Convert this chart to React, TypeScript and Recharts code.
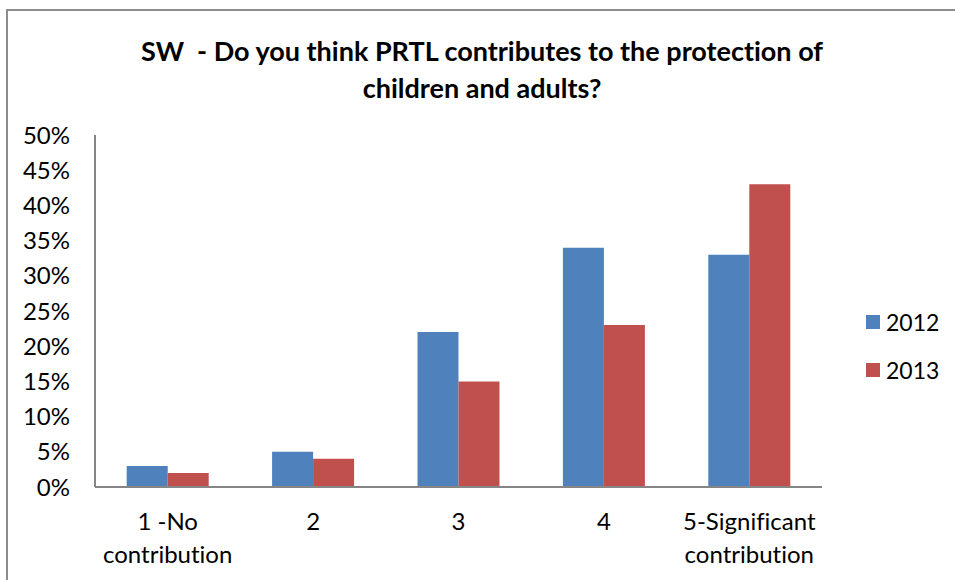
import React from 'react';
import { BarChart, Bar, XAxis, YAxis } from 'recharts';

const categories = ['1 -No\ncontribution', '2', '3', '4', '5-Significant\ncontribution'];
const values2012 = [3, 5, 22, 34, 33];
const values2013 = [2, 4, 15, 23, 43];
const yTicks = [0, 5, 10, 15, 20, 25, 30, 35, 40, 45, 50];
const seriesNames = ['2012', '2013'];

const data = categories.map((c, i) => ({ name: c, y2012: values2012[i], y2013: values2013[i] }));

const FONT = 'Lato, "Open Sans", sans-serif';
const BLUE = '#4F81BD';
const RED = '#C0504D';
const AXIS = '#868686';
const seriesColors = [BLUE, RED];

const CategoryTick = (props: any) => {
  const { x, y, payload } = props;
  const lines = String(payload.value).split('\n');
  return (
    <g>
      {lines.map((ln, i) => (
        <text
          key={i}
          x={x}
          y={y + 35 + i * 33}
          textAnchor="middle"
          fontSize={24}
          fontFamily={FONT}
          fill="#000"
          style={{ fontVariantLigatures: 'none' }}
        >
          {ln}
        </text>
      ))}
    </g>
  );
};

export default function App() {
  return (
    <div
      style={{
        position: 'absolute',
        left: 0,
        top: 0,
        width: 955,
        height: 580,
        overflow: 'hidden',
        background: '#fff',
        fontVariantLigatures: 'none',
      }}
    >
      <div
        style={{
          position: 'absolute',
          left: 6,
          top: 9,
          width: 1100,
          height: 800,
          border: '2px solid #8c8c8c',
          boxSizing: 'border-box',
        }}
      />
      <div
        style={{
          position: 'absolute',
          left: 0,
          top: 32,
          width: 964,
          textAlign: 'center',
          fontFamily: FONT,
          fontWeight: 'bold',
          fontSize: 27,
          lineHeight: '37px',
          color: '#000',
        }}
      >
        SW&nbsp; - Do you think PRTL contributes to the protection of
        <br />
        children and adults?
      </div>
      <div style={{ position: 'absolute', left: 0, top: 0 }}>
        <BarChart
          width={955}
          height={580}
          data={data}
          margin={{ top: 135, right: 133, bottom: 0, left: 0 }}
          barCategoryGap="21.8%"
          barGap={0}
        >
          <XAxis
            dataKey="name"
            height={93}
            interval={0}
            tickLine={false}
            axisLine={{ stroke: AXIS, strokeWidth: 2 }}
            tick={<CategoryTick />}
          />
          <YAxis
            width={95}
            domain={[0, 50]}
            ticks={yTicks}
            interval={0}
            tickLine={false}
            tickSize={0}
            tickMargin={25}
            axisLine={{ stroke: AXIS, strokeWidth: 2 }}
            tickFormatter={(v: number) => `${v}%`}
            tick={{ fontSize: 24, fontFamily: FONT, fill: '#000' }}
          />
          <Bar dataKey="y2012" fill={BLUE} isAnimationActive={false} />
          <Bar dataKey="y2013" fill={RED} isAnimationActive={false} />
        </BarChart>
      </div>
      <div style={{ position: 'absolute', left: 866, top: 308, fontFamily: FONT, fontSize: 23, color: '#000' }}>
        {seriesNames.map((label, i) => (
          <div key={label} style={{ display: 'flex', alignItems: 'center', height: 28, marginBottom: i === 0 ? 20 : 0 }}>
            <span style={{ display: 'inline-block', width: 14, height: 14, background: seriesColors[i], marginRight: 6 }} />
            <span>{label}</span>
          </div>
        ))}
      </div>
    </div>
  );
}
